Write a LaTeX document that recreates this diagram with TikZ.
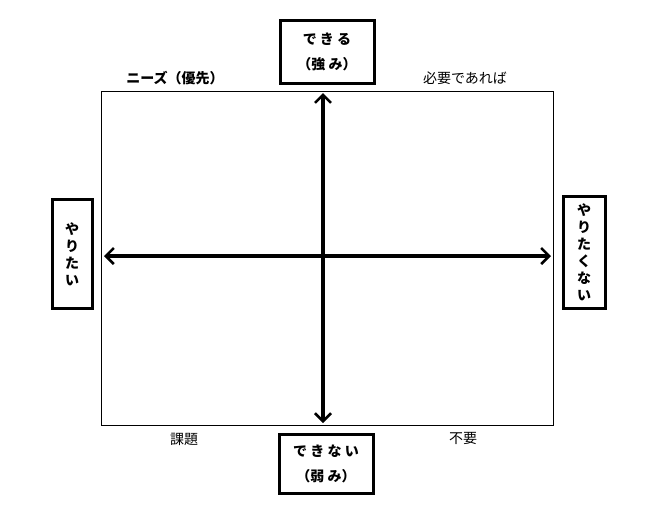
\documentclass[tikz,border=0pt]{standalone}
\usepackage{fontspec}
\setmainfont{Noto Sans CJK JP}
\usetikzlibrary{arrows.meta, positioning}

\begin{document}
\begin{tikzpicture}[
    x=1pt, y=-1pt,
    axisbox/.style={
        rectangle,
        draw=black,
        line width=3pt,
        align=center,
        inner sep=0pt,
        font=\fontsize{14}{25}\selectfont\bfseries
    },
    sidebox/.style={
        axisbox,
        font=\fontsize{14}{17}\selectfont\bfseries
    },
    cornerlabel/.style={
        font=\fontsize{14}{16}\selectfont
    },
    axisarrow/.style={
        {Straight Barb[length=8pt, width=16pt, line width=2.5pt]}-{Straight Barb[length=8pt, width=16pt, line width=2.5pt]},
        line width=3.5pt,
        draw=black
    }
]
    \useasboundingbox (0,0) rectangle (670,507);

    % --- FRAME ---
    \node[draw=black, line width=1pt, minimum width=452pt, minimum height=334pt, inner sep=0pt] (frame) at (327,258) {};

    % --- AXIS BOXES ---
    \node[axisbox, minimum width=94pt, minimum height=63pt] (can) at (327,52) {で き る\\（強 み）};
    \node[axisbox, minimum width=94pt, minimum height=59pt] (cannot) at (326,464) {で き な い\\（弱 み）};
    \node[sidebox, minimum width=40pt, minimum height=109pt] (want) at (72,254) {や\\り\\た\\い};
    \node[sidebox, minimum width=42pt, minimum height=112pt] (notwant) at (584,252) {や\\り\\た\\く\\な\\い};

    % --- CORNER LABELS ---
    \node[cornerlabel, font=\fontsize{14}{16}\selectfont\bfseries] (needs) at (175,78) {ニーズ（優先）};
    \node[cornerlabel] (ifneeded) at (465,78) {必要であれば};
    \node[cornerlabel] (issue) at (184,439) {課題};
    \node[cornerlabel] (unneeded) at (463,438) {不要};

    % --- AXES ---
    \coordinate (vtop) at (323,93);
    \coordinate (vbot) at (323,423);
    \coordinate (hleft) at (104,256);
    \coordinate (hright) at (551,256);
    \draw[axisarrow] (vtop) -- (vbot);
    \draw[axisarrow] (hleft) -- (hright);

\end{tikzpicture}
\end{document}
